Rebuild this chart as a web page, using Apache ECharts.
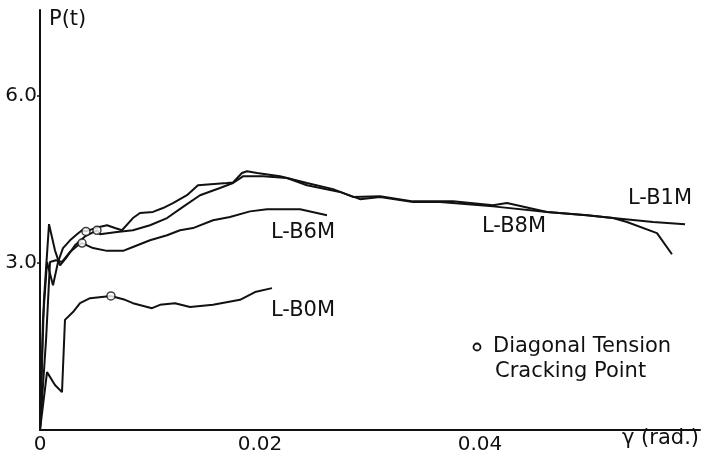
<!DOCTYPE html>
<html>
<head>
<meta charset="utf-8">
<script src="https://cdn.jsdelivr.net/npm/echarts@6/dist/echarts.min.js"></script>
<style>
  html, body { margin: 0; padding: 0; background: #fff; }
  #chart { width: 707px; height: 456px; }
</style>
</head>
<body>
<div id="chart"></div>
<script>
// load P(t) against drift angle (rad.)
const lb1m = [
  [0, 0], [0.00027, 1.98], [0.00064, 3.02], [0.00118, 2.60], [0.00164, 3.02], [0.00209, 3.27],
  [0.00273, 3.41], [0.00336, 3.52], [0.00382, 3.59], [0.00418, 3.57], [0.005, 3.63], [0.00609, 3.68],
  [0.00682, 3.63], [0.00745, 3.59], [0.00845, 3.81], [0.00909, 3.90], [0.01027, 3.92], [0.01118, 3.99],
  [0.01209, 4.08], [0.01336, 4.22], [0.01436, 4.40], [0.017, 4.44], [0.01755, 4.45], [0.01836, 4.62],
  [0.01882, 4.65], [0.01973, 4.62], [0.02182, 4.56], [0.02427, 4.44], [0.02664, 4.33], [0.02845, 4.19],
  [0.03091, 4.20], [0.03391, 4.11], [0.03636, 4.11], [0.03755, 4.11], [0.04118, 4.04], [0.04245, 4.08],
  [0.04609, 3.92], [0.04973, 3.86], [0.05209, 3.81], [0.05573, 3.74], [0.05864, 3.70]
];
const lb8m = [
  [0, 0], [0.00036, 2.34], [0.00082, 3.70], [0.00136, 3.23], [0.00182, 2.96], [0.00236, 3.09],
  [0.00318, 3.32], [0.00409, 3.48], [0.00518, 3.59], [0.00545, 3.52], [0.007, 3.56], [0.00845, 3.59],
  [0.01, 3.68], [0.01155, 3.81], [0.013, 4.01], [0.01455, 4.22], [0.01636, 4.35], [0.01755, 4.44],
  [0.01845, 4.56], [0.02027, 4.56], [0.02245, 4.53], [0.02427, 4.40], [0.02727, 4.28], [0.02909, 4.15],
  [0.03091, 4.19], [0.03391, 4.10], [0.03636, 4.10], [0.04118, 4.02], [0.04609, 3.92], [0.04973, 3.86],
  [0.05209, 3.81], [0.05336, 3.74], [0.05609, 3.54], [0.05745, 3.16]
];
const lb6m = [
  [0, 0], [0.00055, 1.62], [0.00091, 3.02], [0.00145, 3.05], [0.002, 3.02], [0.00273, 3.20],
  [0.00345, 3.32], [0.00382, 3.36], [0.00482, 3.27], [0.00609, 3.22], [0.00755, 3.22], [0.00845, 3.29],
  [0.01, 3.41], [0.01155, 3.50], [0.01273, 3.59], [0.01391, 3.63], [0.01573, 3.77], [0.01727, 3.83],
  [0.01909, 3.93], [0.02064, 3.97], [0.02364, 3.97], [0.02609, 3.86]
];
const lb0m = [
  [0, 0], [0.00064, 1.04], [0.00136, 0.81], [0.002, 0.68], [0.00227, 1.98], [0.003, 2.12],
  [0.00364, 2.28], [0.00455, 2.37], [0.00645, 2.41], [0.00773, 2.34], [0.00845, 2.28], [0.01018, 2.19],
  [0.01091, 2.25], [0.01227, 2.28], [0.01364, 2.21], [0.01573, 2.25], [0.01818, 2.34], [0.01955, 2.48],
  [0.02109, 2.55]
];
// diagonal tension cracking points
const crackPoints = [[0.00418, 3.57], [0.00518, 3.59], [0.00382, 3.36], [0.00645, 2.41]];
const yTicks = [3, 6];

const FONT = 'DejaVu Sans';
const INK = '#111';

function curve(name, data) {
  return {
    name: name,
    type: 'line',
    data: data,
    showSymbol: false,
    smooth: false,
    lineStyle: { color: INK, width: 2 },
    z: 2
  };
}

const myChart = echarts.init(document.getElementById('chart'));
const option = {
  animation: false,
  backgroundColor: '#fff',
  grid: { left: 40, right: 7, top: 10, bottom: 26 },
  xAxis: {
    type: 'value',
    min: 0,
    max: 0.06,
    interval: 0.02,
    splitLine: { show: false },
    axisLine: { lineStyle: { color: INK, width: 2 } },
    axisTick: { show: false },
    axisLabel: {
      color: INK,
      fontFamily: FONT,
      fontSize: 20,
      margin: 5,
      formatter: function (v) {
        if (v === 0) return '0';
        if (v > 0.05) return '';
        return v.toFixed(2);
      }
    }
  },
  yAxis: {
    type: 'value',
    min: 0,
    max: 7.55,
    interval: 3,
    splitLine: { show: false },
    axisLine: { lineStyle: { color: INK, width: 2 } },
    axisTick: { length: 3, customValues: yTicks, lineStyle: { color: INK, width: 1.5 } },
    axisLabel: {
      color: INK,
      fontFamily: FONT,
      fontSize: 20,
      margin: 3,
      customValues: yTicks,
      formatter: function (v) { return v.toFixed(1); }
    }
  },
  series: [
    curve('L-B1M', lb1m),
    curve('L-B8M', lb8m),
    curve('L-B6M', lb6m),
    curve('L-B0M', lb0m),
    {
      name: 'Diagonal Tension Cracking Point',
      type: 'scatter',
      data: crackPoints,
      symbol: 'circle',
      symbolSize: 8,
      itemStyle: { color: '#fff', borderColor: INK, borderWidth: 1.5 },
      z: 5
    }
  ],
  graphic: [
    { type: 'text', left: 49, top: 9, style: { text: 'P(t)', font: '21px "DejaVu Sans"', fill: INK } },
    { type: 'text', left: 271, top: 222, style: { text: 'L-B6M', font: '21px "DejaVu Sans"', fill: INK } },
    { type: 'text', left: 482, top: 216, style: { text: 'L-B8M', font: '21px "DejaVu Sans"', fill: INK } },
    { type: 'text', left: 628, top: 188, style: { text: 'L-B1M', font: '21px "DejaVu Sans"', fill: INK } },
    { type: 'text', left: 271, top: 300, style: { text: 'L-B0M', font: '21px "DejaVu Sans"', fill: INK } },
    { type: 'circle', shape: { cx: 477, cy: 347, r: 3.5 }, style: { fill: '#fff', stroke: INK, lineWidth: 1.8 } },
    { type: 'text', left: 493, top: 336, style: { text: 'Diagonal Tension', font: '21px "DejaVu Sans"', fill: INK } },
    { type: 'text', left: 495, top: 361, style: { text: 'Cracking Point', font: '21px "DejaVu Sans"', fill: INK } },
    { type: 'text', left: 622, top: 428, style: { text: 'γ (rad.)', font: '21px "DejaVu Sans"', fill: INK } }
  ]
};
myChart.setOption(option, true);
window.addEventListener('resize', function () {
  myChart.resize();
});
</script>
</body>
</html>
